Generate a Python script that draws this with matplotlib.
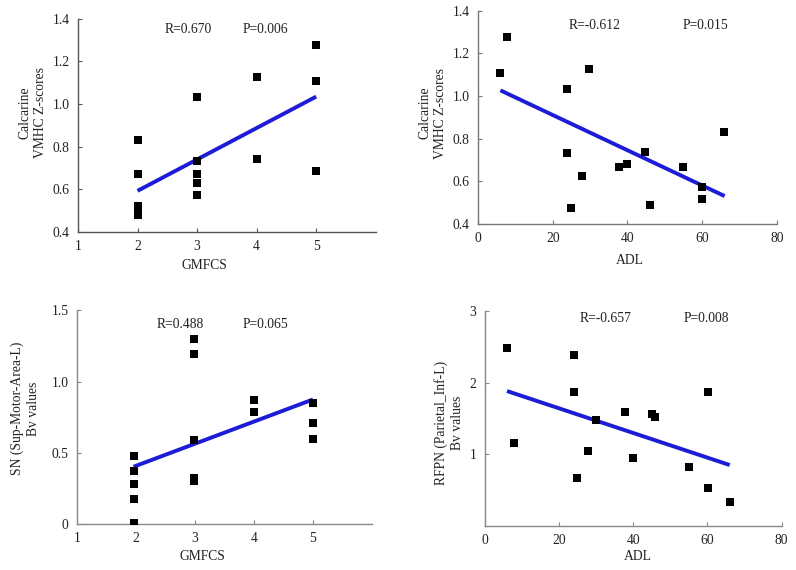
import matplotlib
matplotlib.use("Agg")
import matplotlib.pyplot as plt
import numpy as np

plt.rcParams['font.family'] = ['Liberation Serif', 'DejaVu Serif']

# Panel A: GMFCS vs Calcarine VMHC
a_x = [2, 2, 2, 2, 2, 3, 3, 3, 3, 3, 4, 4, 5, 5, 5]
a_y = [0.83, 0.67, 0.52, 0.495, 0.48, 1.035, 0.735, 0.672, 0.63, 0.575, 1.128, 0.744, 1.278, 1.108, 0.686]
a_fit_x = [2, 5]
a_fit_y = [0.593, 1.035]

# Panel B: ADL vs Calcarine VMHC
b_x = [5.8, 7.8, 23.9, 29.8, 23.9, 27.8, 24.8, 37.8, 40.0, 44.8, 45.9, 54.9, 59.9, 59.9, 65.8]
b_y = [1.108, 1.277, 1.031, 1.127, 0.731, 0.627, 0.473, 0.666, 0.680, 0.738, 0.488, 0.667, 0.572, 0.517, 0.830]
b_fit_x = [6, 66]
b_fit_y = [1.027, 0.531]

# Panel C: GMFCS vs SN (Sup-Motor-Area-L)
c_x = [1.96, 1.96, 1.96, 1.96, 1.96, 2.98, 2.98, 2.98, 2.98, 2.98, 4.0, 4.0, 5.0, 5.0, 5.0]
c_y = [0.479, 0.374, 0.278, 0.178, 0.007, 1.301, 1.192, 0.586, 0.32, 0.30, 0.867, 0.787, 0.850, 0.710, 0.598]
c_fit_x = [1.96, 5.0]
c_fit_y = [0.402, 0.874]

# Panel D: ADL vs RFPN (Parietal_Inf-L)
d_x = [5.9, 7.8, 24.0, 24.0, 29.9, 24.9, 27.8, 37.9, 40.0, 45.0, 46.0, 55.1, 60.1, 60.1, 66.0]
d_y = [2.479, 1.158, 2.381, 1.865, 1.479, 0.665, 1.051, 1.591, 0.944, 1.558, 1.516, 0.823, 1.865, 0.530, 0.330]
d_fit_x = [6, 66]
d_fit_y = [1.884, 0.851]

fig = plt.figure(figsize=(7.96, 5.70), dpi=100)

FS = 9.8
BLUE = '#1c1cd6'

panels = [
    dict(rect=[0.098, 0.593, 0.374, 0.374], x=a_x, y=a_y, fx=a_fit_x, fy=a_fit_y,
         xlim=(1, 6), xt=[1, 2, 3, 4, 5], xtl=['1', '2', '3', '4', '5'],
         ylim=(0.4, 1.4), yt=[0.4, 0.6, 0.8, 1.0, 1.2, 1.4], ytl=['0.4', '0.6', '0.8', '1.0', '1.2', '1.4'],
         ylab='Calcarine\nVMHC Z-scores', ylx=-0.152, yly=0.56,
         xlab='GMFCS', xlx=0.426, xly=-0.155,
         R='R=0.670', P='P=0.006', rx=2.85, px=4.14, ry=1.35, spc='#555555'),
    dict(rect=[0.6005, 0.607, 0.3756, 0.374], x=b_x, y=b_y, fx=b_fit_x, fy=b_fit_y,
         xlim=(0, 80), xt=[0, 20, 40, 60, 80], xtl=['0', '20', '40', '60', '80'],
         ylim=(0.4, 1.4), yt=[0.4, 0.6, 0.8, 1.0, 1.2, 1.4], ytl=['0.4', '0.6', '0.8', '1.0', '1.2', '1.4'],
         ylab='Calcarine\nVMHC Z-scores', ylx=-0.152, yly=0.52,
         xlab='ADL', xlx=0.508, xly=-0.17,
         R='R=-0.612', P='P=0.015', rx=31.1, px=60.9, ry=1.33, spc='#777777'),
    dict(rect=[0.0967, 0.0807, 0.3706, 0.375], x=c_x, y=c_y, fx=c_fit_x, fy=c_fit_y,
         xlim=(1, 6), xt=[1, 2, 3, 4, 5], xtl=['1', '2', '3', '4', '5'],
         ylim=(0, 1.5), yt=[0, 0.5, 1.0, 1.5], ytl=['0', '0.5', '1.0', '1.5'],
         ylab='SN (Sup-Motor-Area-L)\nBv values', ylx=-0.174, yly=0.54,
         xlab='GMFCS', xlx=0.427, xly=-0.154,
         R='R=0.488', P='P=0.065', rx=2.75, px=4.19, ry=1.40, spc='#888888'),
    dict(rect=[0.609, 0.0772, 0.373, 0.377], x=d_x, y=d_y, fx=d_fit_x, fy=d_fit_y,
         xlim=(0, 80), xt=[0, 20, 40, 60, 80], xtl=['0', '20', '40', '60', '80'],
         ylim=(0, 3), yt=[1, 2, 3], ytl=['1', '2', '3'],
         ylab='RFPN (Parietal_Inf-L)\nBv values', ylx=-0.121, yly=0.48,
         xlab='ADL', xlx=0.515, xly=-0.144,
         R='R=-0.657', P='P=0.008', rx=32.6, px=59.8, ry=2.89, spc='#888888'),
]

for p in panels:
    ax = fig.add_axes(p['rect'])
    ax.plot(p['fx'], p['fy'], color=BLUE, lw=2.8, solid_capstyle='butt', zorder=2)
    ax.scatter(p['x'], p['y'], marker='s', s=28, color='black', linewidths=0, zorder=3)
    ax.set_xlim(*p['xlim'])
    ax.set_ylim(*p['ylim'])
    ax.set_xticks(p['xt'])
    ax.set_xticklabels(p['xtl'])
    ax.set_yticks(p['yt'])
    ax.set_yticklabels(p['ytl'])
    for s in ['top', 'right']:
        ax.spines[s].set_visible(False)
    for s in ['left', 'bottom']:
        ax.spines[s].set_color(p['spc'])
        ax.spines[s].set_linewidth(1.0)
    ax.tick_params(direction='in', length=3, width=0.8, color=p['spc'],
                   labelsize=FS, labelcolor='#222222', pad=6)
    ax.text(p['ylx'], p['yly'], p['ylab'], transform=ax.transAxes, rotation=90,
            ha='center', va='center', fontsize=FS, color='#222222', linespacing=1.3)
    ax.text(p['xlx'], p['xly'], p['xlab'], transform=ax.transAxes,
            ha='center', va='center', fontsize=FS, color='#222222')
    ax.text(p['rx'], p['ry'], p['R'], ha='center', va='center', fontsize=FS, color='#222222')
    ax.text(p['px'], p['ry'], p['P'], ha='center', va='center', fontsize=FS, color='#222222')

fig.savefig('out.png', dpi=100)
